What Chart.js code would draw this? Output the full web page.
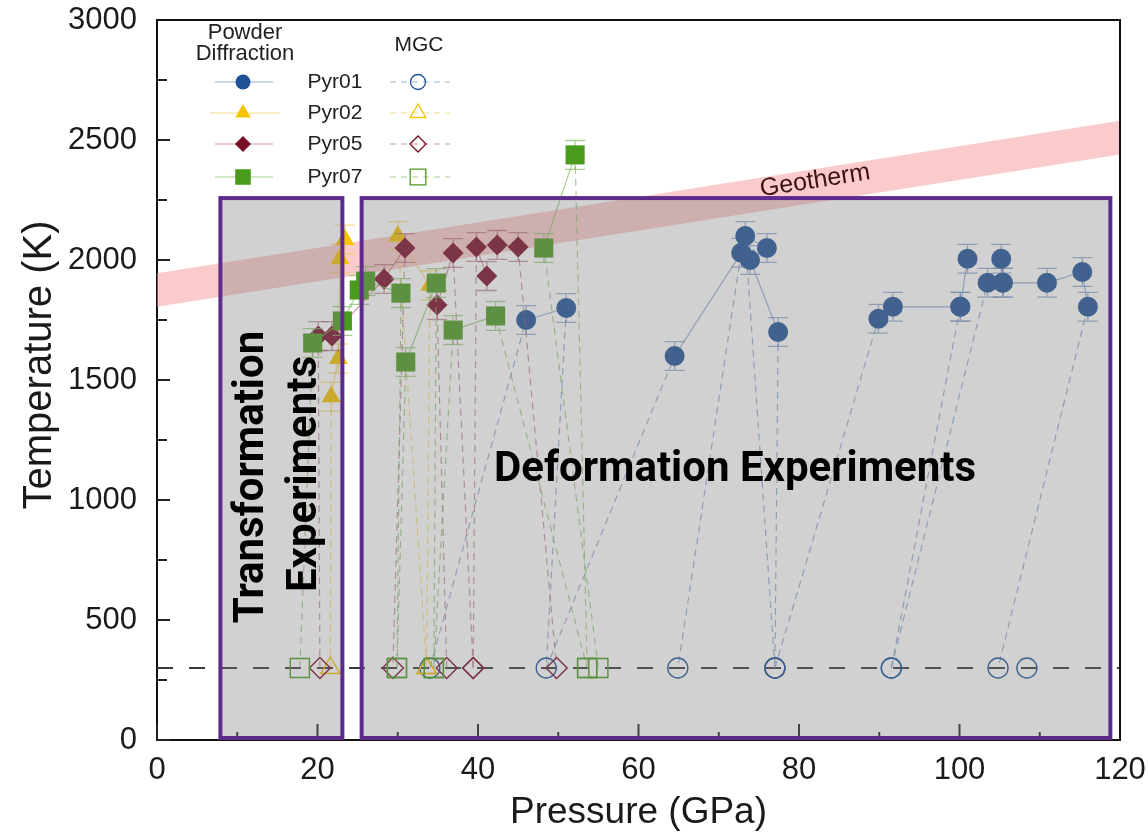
<!DOCTYPE html>
<html>
<head>
<meta charset="utf-8">
<script src="https://cdn.jsdelivr.net/npm/chart.js@4/dist/chart.umd.min.js"></script>
<style>
  html, body { margin: 0; padding: 0; background: #fff; }
  #wrap { width: 1148px; height: 835px; }
</style>
</head>
<body>
<div id="wrap"><canvas id="chart" width="1148" height="835"></canvas></div>
<script>
// axis ranges
const xMin = 0, xMax = 120;
const yMin = 0, yMax = 3000;
const roomTemp = 300;      // cold compression (MGC) points sit here
const tempError = 60;      // +/- K on heated points

// each run: [pressure GPa, temperature K]; 300 K points are MGC (open), others powder diffraction
const pyr01Runs = [
  [[34.0, 300], [46.0, 1750], [51.0, 1800], [48.5, 300], [64.5, 1600], [72.8, 2030], [64.9, 300]],
  [[77.0, 300], [73.3, 2100], [76.0, 2050], [73.9, 2000], [77.4, 1700], [77.0, 300]],
  [[77.0, 300], [89.9, 1755], [91.7, 1805], [100.1, 1805], [91.5, 300]],
  [[100.1, 1805], [101.0, 2005]],
  [[91.5, 300], [103.5, 1905], [105.4, 1905], [110.9, 1905], [115.3, 1950], [116.0, 1805], [104.8, 300]],
  [[105.2, 2005], [105.4, 1905]],
  [[108.4, 300]]
];
const pyr02Runs = [
  [[21.6, 300], [21.7, 1430], [22.6, 1590], [22.8, 2005], [23.4, 2085]],
  [[33.6, 300], [30.0, 2100], [34.0, 1895], [33.6, 300]]
];
const pyr05Runs = [
  [[20.3, 300], [20.1, 1683], [21.8, 1683], [28.3, 1921], [30.9, 2050], [29.4, 300]],
  [[36.1, 300], [34.9, 1812], [36.9, 2029], [39.4, 300]],
  [[39.4, 300], [39.8, 2054], [41.1, 1933]],
  [[42.4, 2063], [45.0, 2054], [49.8, 300]]
];
const pyr07Runs = [
  [[17.8, 300], [19.4, 1654], [23.1, 1746], [25.2, 1875], [26.0, 1912], [30.4, 1862], [29.9, 300]],
  [[29.9, 300], [31.0, 1575], [34.8, 1904], [34.5, 300]],
  [[34.5, 300], [36.9, 1708], [42.2, 1767], [53.6, 300]],
  [[55.0, 300], [48.2, 2050], [52.1, 2438], [53.6, 300]]
];

// geotherm band
const geoPressure = [0, 120];
const geoLower = [1805, 2440];
const geoUpper = [1945, 2580];

// experiment regions (pressure ranges, top temperature)
const transformRange = [7.9, 23.1];
const deformRange = [25.5, 118.8];
const regionTop = 2258;

const styles = {
  Pyr01: { color: '#1e5296', line: 'rgba(120,150,195,0.75)', shape: 'circle', r: 10, lr: 7.5 },
  Pyr02: { color: '#f5c300', line: 'rgba(240,205,90,0.7)', shape: 'triangle', r: 11, lr: 9 },
  Pyr05: { color: '#7a0c26', line: 'rgba(170,95,110,0.65)', shape: 'rectRot', r: 10.5, lr: 8 },
  Pyr07: { color: '#4a9a1e', line: 'rgba(130,185,100,0.7)', shape: 'rect', r: 13.5, lr: 11 }
};
const runsByName = { Pyr01: pyr01Runs, Pyr02: pyr02Runs, Pyr05: pyr05Runs, Pyr07: pyr07Runs };

const FONT = '"Liberation Sans", Arial, sans-serif';

function toPoints(runs) {
  const pts = [];
  runs.forEach((run, i) => {
    if (i > 0) pts.push({ x: null, y: null });
    run.forEach(([x, y]) => pts.push({ x, y }));
  });
  return pts;
}
const isCold = ctx => ctx.raw && ctx.raw.y != null && ctx.raw.y <= roomTemp;
const coldSeg = ctx => ctx.p0.parsed.y <= roomTemp || ctx.p1.parsed.y <= roomTemp;

const sampleSets = ['Pyr07', 'Pyr05', 'Pyr02', 'Pyr01'].map(name => {
  const st = styles[name];
  return {
    label: name,
    data: toPoints(runsByName[name]),
    showLine: true,
    spanGaps: false,
    borderColor: st.line,
    borderWidth: 1.2,
    segment: { borderDash: ctx => coldSeg(ctx) ? [7, 5] : undefined },
    pointStyle: st.shape,
    pointRadius: st.r,
    pointBorderColor: st.color,
    pointBorderWidth: ctx => isCold(ctx) ? 1.4 : 0,
    pointBackgroundColor: ctx => isCold(ctx) ? 'rgba(0,0,0,0)' : st.color,
    errColor: st.line,
    order: 1
  };
});

const datasets = [
  {
    label: 'geoLower',
    data: geoPressure.map((p, i) => ({ x: p, y: geoLower[i] })),
    showLine: true, borderWidth: 0, pointRadius: 0, borderColor: 'rgba(0,0,0,0)', fill: false, order: 10
  },
  {
    label: 'Geotherm',
    data: geoPressure.map((p, i) => ({ x: p, y: geoUpper[i] })),
    showLine: true, borderWidth: 0, pointRadius: 0, borderColor: 'rgba(0,0,0,0)',
    fill: '-1', backgroundColor: 'rgba(248,150,150,0.5)', order: 10
  },
  {
    label: 'roomTemp',
    data: [{ x: xMin, y: roomTemp }, { x: xMax, y: roomTemp }],
    showLine: true, borderColor: '#3a3a3a', borderWidth: 2, borderDash: [16, 16], pointRadius: 0, order: 5
  },
  ...sampleSets
];

function marker(ctx, shape, x, y, r) {
  ctx.beginPath();
  if (shape === 'circle') {
    ctx.arc(x, y, r, 0, Math.PI * 2);
  } else if (shape === 'triangle') {
    ctx.moveTo(x, y - r);
    ctx.lineTo(x + r * 0.866, y + r * 0.5);
    ctx.lineTo(x - r * 0.866, y + r * 0.5);
  } else if (shape === 'rectRot') {
    ctx.moveTo(x - r, y); ctx.lineTo(x, y - r); ctx.lineTo(x + r, y); ctx.lineTo(x, y + r);
  } else {
    const s = r * Math.SQRT1_2;
    ctx.rect(x - s, y - s, 2 * s, 2 * s);
  }
  ctx.closePath();
}

const errorBars = {
  id: 'errorBars',
  beforeDatasetDraw(chart, args) {
    const ds = chart.data.datasets[args.index];
    if (!ds.errColor) return;
    const { ctx, scales: { x, y } } = chart;
    ctx.save();
    ctx.strokeStyle = ds.errColor;
    ctx.lineWidth = 1.3;
    ds.data.forEach(p => {
      if (p.y == null || p.y <= roomTemp) return;
      const px = x.getPixelForValue(p.x);
      const top = y.getPixelForValue(p.y + tempError);
      const bot = y.getPixelForValue(p.y - tempError);
      ctx.beginPath();
      ctx.moveTo(px, top); ctx.lineTo(px, bot);
      ctx.moveTo(px - 10, top); ctx.lineTo(px + 10, top);
      ctx.moveTo(px - 10, bot); ctx.lineTo(px + 10, bot);
      ctx.stroke();
    });
    ctx.restore();
  }
};

const decorations = {
  id: 'decorations',
  afterDatasetsDraw(chart) {
    const { ctx, chartArea: a, scales: { x, y } } = chart;
    ctx.save();

    // inward ticks
    ctx.strokeStyle = '#222';
    ctx.lineWidth = 2;
    for (let v = xMin; v <= xMax; v += 10) {
      const px = x.getPixelForValue(v);
      const len = v % 20 === 0 ? 16 : 8;
      ctx.beginPath(); ctx.moveTo(px, a.bottom); ctx.lineTo(px, a.bottom - len); ctx.stroke();
    }
    for (let v = yMin; v <= yMax; v += 250) {
      const py = y.getPixelForValue(v);
      const len = v % 500 === 0 ? 13 : 10;
      ctx.beginPath(); ctx.moveTo(a.left, py); ctx.lineTo(a.left + len, py); ctx.stroke();
    }

    // geotherm label along the band
    const gx0 = x.getPixelForValue(geoPressure[0]), gx1 = x.getPixelForValue(geoPressure[1]);
    const gy0 = y.getPixelForValue((geoLower[0] + geoUpper[0]) / 2);
    const gy1 = y.getPixelForValue((geoLower[1] + geoUpper[1]) / 2);
    const ang = Math.atan2(gy1 - gy0, gx1 - gx0);
    const lx = x.getPixelForValue(82);
    const ly = gy0 + (gy1 - gy0) * (lx - gx0) / (gx1 - gx0) - 5;
    ctx.save();
    ctx.translate(lx, ly);
    ctx.rotate(ang);
    ctx.fillStyle = '#3a1212';
    ctx.font = '25px ' + FONT;
    ctx.textAlign = 'center';
    ctx.textBaseline = 'middle';
    ctx.fillText('Geotherm', 0, 0);
    ctx.restore();

    // experiment regions: translucent grey veil then purple frame
    const boxes = [transformRange, deformRange].map(rg => ({
      l: x.getPixelForValue(rg[0]), r: x.getPixelForValue(rg[1]),
      t: y.getPixelForValue(regionTop), b: y.getPixelForValue(yMin) - 2
    }));
    ctx.fillStyle = 'rgba(128,128,128,0.36)';
    boxes.forEach(bx => ctx.fillRect(bx.l, bx.t, bx.r - bx.l, bx.b - bx.t));
    ctx.strokeStyle = '#5e2b8d';
    ctx.lineWidth = 4;
    boxes.forEach(bx => ctx.strokeRect(bx.l, bx.t, bx.r - bx.l, bx.b - bx.t));

    ctx.fillStyle = '#000';
    ctx.font = 'bold 42px Roboto, "Liberation Sans", sans-serif';
    ctx.textAlign = 'center';
    ctx.textBaseline = 'middle';
    ctx.fillText('Deformation Experiments', 735, 470);
    ctx.save();
    ctx.translate(252, 477);
    ctx.rotate(-Math.PI / 2);
    ctx.fillText('Transformation', 0, 0);
    ctx.restore();
    ctx.save();
    ctx.translate(305, 474);
    ctx.rotate(-Math.PI / 2);
    ctx.fillText('Experiments', 0, 0);
    ctx.restore();

    // frame top and right
    ctx.strokeStyle = '#111';
    ctx.lineWidth = 2;
    ctx.beginPath();
    ctx.moveTo(a.left, a.top); ctx.lineTo(a.right, a.top); ctx.lineTo(a.right, a.bottom);
    ctx.stroke();
    ctx.restore();
  },
  afterDraw(chart) {
    const ctx = chart.ctx;
    ctx.save();
    // y axis title
    ctx.save();
    ctx.translate(40, 365);
    ctx.rotate(-Math.PI / 2);
    ctx.fillStyle = '#1a1a1a';
    ctx.font = '40px ' + FONT;
    ctx.textAlign = 'center';
    ctx.textBaseline = 'middle';
    ctx.fillText('Temperature (K)', 0, 0);
    ctx.restore();

    // legend
    ctx.fillStyle = '#222';
    ctx.textAlign = 'center';
    ctx.textBaseline = 'middle';
    ctx.font = '22px ' + FONT;
    ctx.fillText('Powder', 245, 33);
    ctx.fillText('Diffraction', 245, 54);
    ctx.font = '21px ' + FONT;
    ctx.fillText('MGC', 419, 45);
    const rows = [82, 113, 144, 177];
    ['Pyr01', 'Pyr02', 'Pyr05', 'Pyr07'].forEach((name, i) => {
      const st = styles[name];
      const ry = rows[i];
      ctx.lineWidth = 1.2;
      ctx.strokeStyle = st.line;
      ctx.setLineDash([]);
      ctx.beginPath(); ctx.moveTo(name === 'Pyr02' ? 210 : 215, ry); ctx.lineTo(name === 'Pyr02' ? 280 : 273, ry); ctx.stroke();
      ctx.setLineDash([6, 5]);
      ctx.beginPath(); ctx.moveTo(390, ry); ctx.lineTo(450, ry); ctx.stroke();
      ctx.setLineDash([]);
      ctx.fillStyle = st.color;
      marker(ctx, st.shape, 243, ry, st.lr);
      ctx.fill();
      ctx.strokeStyle = st.color;
      ctx.lineWidth = 1.3;
      marker(ctx, st.shape, 418, ry, st.lr);
      ctx.stroke();
      ctx.fillStyle = '#222';
      ctx.font = '21px ' + FONT;
      ctx.fillText(name, 335, ry);
    });
    ctx.restore();
  }
};

new Chart(document.getElementById('chart'), {
  type: 'scatter',
  data: { datasets },
  options: {
    responsive: false,
    animation: false,
    events: [],
    layout: { padding: { top: 20, right: 28, left: 0, bottom: 0 } },
    plugins: { legend: { display: false }, tooltip: { enabled: false } },
    scales: {
      x: {
        type: 'linear', min: xMin, max: xMax,
        afterFit: s => { s.height = 95; s.paddingLeft = 0; s.paddingRight = 0; },
        grid: { display: false, drawTicks: false },
        border: { display: true, color: '#111', width: 2 },
        ticks: { stepSize: 20, padding: 12, color: '#1a1a1a', callback: v => String(v),
          font: { size: 31, family: FONT } },
        title: { display: true, text: 'Pressure (GPa)', color: '#1a1a1a', padding: { top: 0, bottom: 0 },
          font: { size: 37, family: FONT } }
      },
      y: {
        type: 'linear', min: yMin, max: yMax,
        afterFit: s => { s.width = 157; s.paddingTop = 0; s.paddingBottom = 0; },
        grid: { display: false, drawTicks: false },
        border: { display: true, color: '#111', width: 2 },
        ticks: { stepSize: 500, padding: 20, color: '#1a1a1a', callback: v => String(v),
          font: { size: 31, family: FONT } },
        title: { display: false }
      }
    }
  },
  plugins: [errorBars, decorations]
});
</script>
</body>
</html>
